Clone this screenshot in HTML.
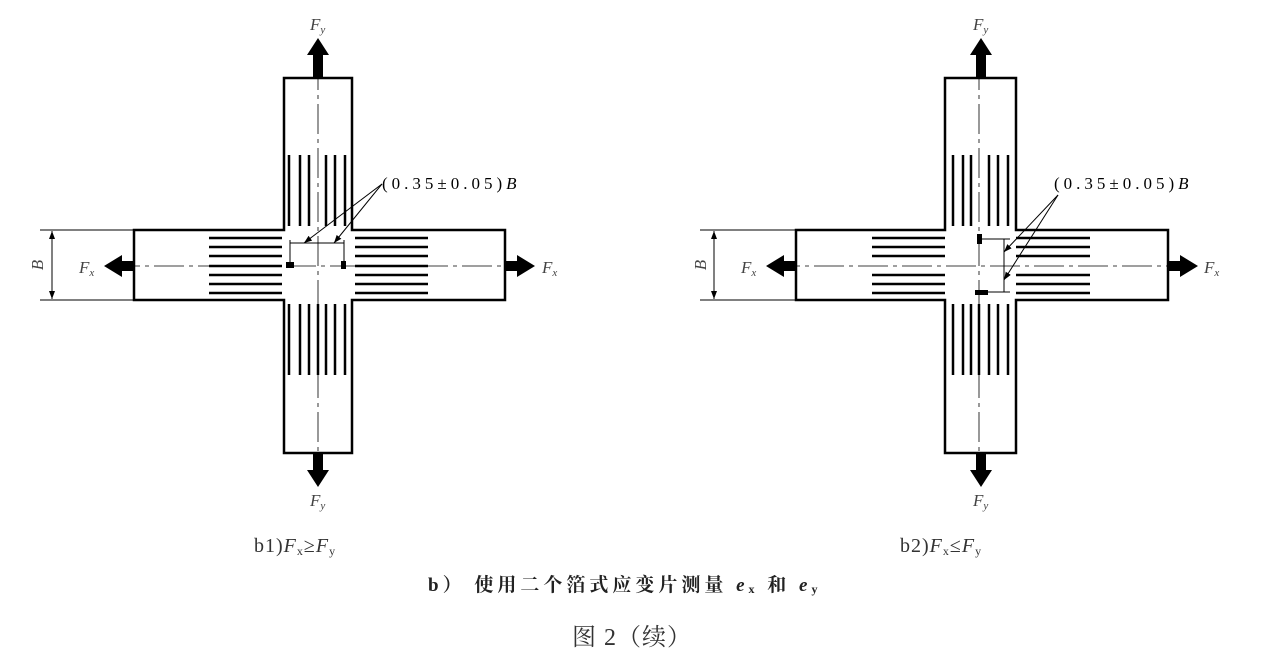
<!DOCTYPE html>
<html><head><meta charset="utf-8"><style>
html,body{margin:0;padding:0;background:#fff;}
svg{display:block;}
text{font-family:"Liberation Serif","Noto Serif CJK SC",serif;}
</style></head><body>
<svg width="1266" height="669" viewBox="0 0 1266 669" xmlns="http://www.w3.org/2000/svg">
<defs>
<marker id="ah" markerWidth="8" markerHeight="6" refX="8" refY="3" orient="auto" markerUnits="userSpaceOnUse"><path d="M0,0 L8,3 L0,6 Z" fill="#000"/></marker>
</defs>

<g stroke="#000" fill="none">
  <path d="M284,78 H352 V230 H505 V300 H352 V453 H284 V300 H134 V230 H284 Z" stroke-width="2.5"/>
  <line x1="318" y1="60" x2="318" y2="470" stroke-width="0.8" stroke-dasharray="30,5,4,5"/>
  <line x1="110" y1="266" x2="530" y2="266" stroke-width="0.8" stroke-dasharray="30,5,4,5"/>
  <g stroke-width="2.5">
    <line x1="209" y1="238" x2="282" y2="238"/><line x1="209" y1="247" x2="282" y2="247"/><line x1="209" y1="256" x2="282" y2="256"/><line x1="209" y1="266" x2="282" y2="266"/><line x1="209" y1="275" x2="282" y2="275"/><line x1="209" y1="284" x2="282" y2="284"/><line x1="209" y1="293" x2="282" y2="293"/>
    <line x1="355" y1="238" x2="428" y2="238"/><line x1="355" y1="247" x2="428" y2="247"/><line x1="355" y1="256" x2="428" y2="256"/><line x1="355" y1="266" x2="428" y2="266"/><line x1="355" y1="275" x2="428" y2="275"/><line x1="355" y1="284" x2="428" y2="284"/><line x1="355" y1="293" x2="428" y2="293"/>
    <line x1="289" y1="155" x2="289" y2="226"/><line x1="300" y1="155" x2="300" y2="226"/><line x1="309" y1="155" x2="309" y2="226"/><line x1="326" y1="155" x2="326" y2="226"/><line x1="335" y1="155" x2="335" y2="226"/><line x1="345" y1="155" x2="345" y2="226"/>
    <line x1="289" y1="304" x2="289" y2="375"/><line x1="300" y1="304" x2="300" y2="375"/><line x1="309" y1="304" x2="309" y2="375"/><line x1="318" y1="304" x2="318" y2="375"/><line x1="326" y1="304" x2="326" y2="375"/><line x1="335" y1="304" x2="335" y2="375"/><line x1="345" y1="304" x2="345" y2="375"/>
  </g>
  <line x1="290" y1="240" x2="290" y2="262" stroke-width="1"/>
  <line x1="344" y1="240" x2="344" y2="262" stroke-width="1"/>
  <line x1="290" y1="243" x2="344" y2="243" stroke-width="1"/>
  <line x1="382" y1="184" x2="304" y2="243" stroke-width="1" marker-end="url(#ah)"/>
  <line x1="382" y1="184" x2="334" y2="243" stroke-width="1" marker-end="url(#ah)"/>
  <line x1="40" y1="230" x2="134" y2="230" stroke-width="1"/>
  <line x1="40" y1="300" x2="134" y2="300" stroke-width="1"/>
  <line x1="52" y1="265" x2="52" y2="231" stroke-width="1" marker-end="url(#ah)"/>
  <line x1="52" y1="265" x2="52" y2="299" stroke-width="1" marker-end="url(#ah)"/>
</g>
<rect x="286" y="262" width="8" height="6" fill="#000"/>
<rect x="341" y="261" width="5" height="8" fill="#000"/>
<g fill="#000">
  <path d="M313,78 V55 H307 L318,38 L329,55 H323 V78 Z"/>
  <path d="M313,453 V470 H307 L318,487 L329,470 H323 V453 Z"/>
  <path d="M134,261 H122 V255 L104,266 L122,277 V271 H134 Z"/>
  <path d="M505,261 H517 V255 L535,266 L517,277 V271 H505 Z"/>
</g>
<g font-style="italic" font-size="17" fill="#444">
  <text x="310" y="30">F<tspan font-size="11" dy="3">y</tspan></text>
  <text x="310" y="506">F<tspan font-size="11" dy="3">y</tspan></text>
  <text x="79" y="273">F<tspan font-size="11" dy="3">x</tspan></text>
  <text x="542" y="273">F<tspan font-size="11" dy="3">x</tspan></text>
  <text x="0" y="0" transform="translate(43,265) rotate(-90)" text-anchor="middle">B</text>
</g>
<text x="382" y="189" font-size="17" letter-spacing="4" fill="#000" font-family="Liberation Mono, monospace">(0.35±0.05)<tspan font-style="italic" font-family="Liberation Serif" letter-spacing="0">B</tspan></text>

<g stroke="#000" fill="none">
  <path d="M945,78 H1016 V230 H1168 V300 H1016 V453 H945 V300 H796 V230 H945 Z" stroke-width="2.5"/>
  <line x1="979" y1="60" x2="979" y2="470" stroke-width="0.8" stroke-dasharray="30,5,4,5"/>
  <line x1="770" y1="266" x2="1190" y2="266" stroke-width="0.8" stroke-dasharray="30,5,4,5"/>
  <g stroke-width="2.5">
    <line x1="872" y1="238" x2="945" y2="238"/><line x1="872" y1="247" x2="945" y2="247"/><line x1="872" y1="256" x2="945" y2="256"/><line x1="872" y1="275" x2="945" y2="275"/><line x1="872" y1="284" x2="945" y2="284"/><line x1="872" y1="293" x2="945" y2="293"/>
    <line x1="1016" y1="238" x2="1090" y2="238"/><line x1="1016" y1="247" x2="1090" y2="247"/><line x1="1016" y1="256" x2="1090" y2="256"/><line x1="1016" y1="275" x2="1090" y2="275"/><line x1="1016" y1="284" x2="1090" y2="284"/><line x1="1016" y1="293" x2="1090" y2="293"/>
    <line x1="953" y1="155" x2="953" y2="226"/><line x1="963" y1="155" x2="963" y2="226"/><line x1="971" y1="155" x2="971" y2="226"/><line x1="989" y1="155" x2="989" y2="226"/><line x1="998" y1="155" x2="998" y2="226"/><line x1="1008" y1="155" x2="1008" y2="226"/>
    <line x1="953" y1="304" x2="953" y2="375"/><line x1="963" y1="304" x2="963" y2="375"/><line x1="971" y1="304" x2="971" y2="375"/><line x1="979" y1="304" x2="979" y2="375"/><line x1="989" y1="304" x2="989" y2="375"/><line x1="998" y1="304" x2="998" y2="375"/><line x1="1008" y1="304" x2="1008" y2="375"/>
  </g>
  <line x1="982" y1="239" x2="1010" y2="239" stroke-width="1"/>
  <line x1="982" y1="292" x2="1010" y2="292" stroke-width="1"/>
  <line x1="1004" y1="239" x2="1004" y2="292" stroke-width="1"/>
  <line x1="1058" y1="195" x2="1004" y2="252" stroke-width="1" marker-end="url(#ah)"/>
  <line x1="1058" y1="195" x2="1004" y2="280" stroke-width="1" marker-end="url(#ah)"/>
  <line x1="700" y1="230" x2="796" y2="230" stroke-width="1"/>
  <line x1="700" y1="300" x2="796" y2="300" stroke-width="1"/>
  <line x1="714" y1="265" x2="714" y2="231" stroke-width="1" marker-end="url(#ah)"/>
  <line x1="714" y1="265" x2="714" y2="299" stroke-width="1" marker-end="url(#ah)"/>
</g>
<rect x="977" y="234" width="5" height="10" fill="#000"/>
<rect x="975" y="290" width="13" height="5" fill="#000"/>
<g fill="#000">
  <path d="M976,78 V55 H970 L981,38 L992,55 H986 V78 Z"/>
  <path d="M976,453 V470 H970 L981,487 L992,470 H986 V453 Z"/>
  <path d="M796,261 H784 V255 L766,266 L784,277 V271 H796 Z"/>
  <path d="M1168,261 H1180 V255 L1198,266 L1180,277 V271 H1168 Z"/>
</g>
<g font-style="italic" font-size="17" fill="#444">
  <text x="973" y="30">F<tspan font-size="11" dy="3">y</tspan></text>
  <text x="973" y="506">F<tspan font-size="11" dy="3">y</tspan></text>
  <text x="741" y="273">F<tspan font-size="11" dy="3">x</tspan></text>
  <text x="1204" y="273">F<tspan font-size="11" dy="3">x</tspan></text>
  <text x="0" y="0" transform="translate(706,265) rotate(-90)" text-anchor="middle">B</text>
</g>
<text x="1054" y="189" font-size="17" letter-spacing="4" fill="#000" font-family="Liberation Mono, monospace">(0.35±0.05)<tspan font-style="italic" font-family="Liberation Serif" letter-spacing="0">B</tspan></text>

<text x="254" y="552" font-size="20" fill="#333" letter-spacing="1">b1)<tspan font-style="italic">F</tspan><tspan font-size="12" dy="3">x</tspan><tspan dy="-3">≥</tspan><tspan font-style="italic">F</tspan><tspan font-size="12" dy="3">y</tspan></text>
<text x="900" y="552" font-size="20" fill="#333" letter-spacing="1">b2)<tspan font-style="italic">F</tspan><tspan font-size="12" dy="3">x</tspan><tspan dy="-3">≤</tspan><tspan font-style="italic">F</tspan><tspan font-size="12" dy="3">y</tspan></text>
<text x="428" y="591" font-size="19" font-weight="bold" fill="#222" letter-spacing="4" font-family="Liberation Serif, Noto Sans CJK SC, sans-serif">b）  使用二个箔式应变片测量 <tspan font-style="italic">e</tspan><tspan font-size="12" dy="2">x</tspan><tspan dy="-2"> 和 </tspan><tspan font-style="italic">e</tspan><tspan font-size="12" dy="2">y</tspan></text>
<text x="572" y="645" font-size="24" fill="#333" letter-spacing="1" font-family="Liberation Sans, Noto Sans CJK SC, sans-serif">图 2（续）</text>
</svg>
</body></html>
